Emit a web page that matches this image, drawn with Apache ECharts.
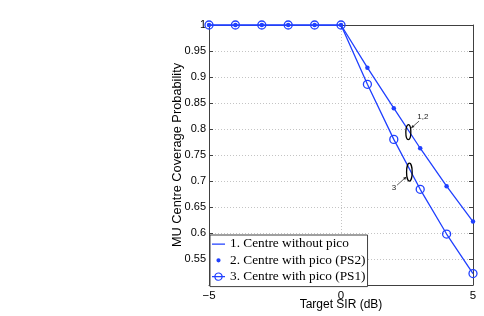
<!DOCTYPE html>
<html><head><meta charset="utf-8">
<script src="https://cdn.jsdelivr.net/npm/echarts@6/dist/echarts.min.js"></script>
<style>html,body{margin:0;padding:0;background:#fff}#c{width:484px;height:316px}</style>
</head><body><div id="c"></div>
<script>
// ---- data ----
const targetSIR = [-5, -4, -3, -2, -1, 0, 1, 2, 3, 4, 5];
const centreWithoutPico = [1, 1, 1, 1, 1, 1, 0.918, 0.840, 0.763, 0.690, 0.622];
const centreWithPicoPS2 = [1, 1, 1, 1, 1, 1, 0.918, 0.840, 0.763, 0.690, 0.622];
const centreWithPicoPS1 = [1, 1, 1, 1, 1, 1, 0.886, 0.780, 0.684, 0.598, 0.522];
const seriesNames = ['1. Centre without pico', '2. Centre with pico (PS2)', '3. Centre with pico (PS1)'];
const xTickValues = [-5, 0, 5];
const yTickValues = [0.55, 0.6, 0.65, 0.7, 0.75, 0.8, 0.85, 0.9, 0.95, 1];

const BLUE = '#2040ff';
const AXIS = '#404040';
const zip = (xs, ys) => xs.map((x, i) => [x, ys[i]]);

const chart = echarts.init(document.getElementById('c'), null, {renderer: 'canvas'});

const baseX = {
  type: 'value', min: -5, max: 5, interval: 5,
  axisLine: {show: true, onZero: false, lineStyle: {color: AXIS, width: 1}},
  axisTick: {show: true, inside: true, length: 4, lineStyle: {color: AXIS}},
};
const baseY = {
  type: 'value', min: 0.5, max: 1, interval: 0.05,
  axisLine: {show: true, onZero: false, lineStyle: {color: AXIS, width: 1}},
  axisTick: {show: true, inside: true, length: 4, lineStyle: {color: AXIS}},
};

const option = {
  animation: false,
  backgroundColor: '#fff',
  grid: {left: 209, right: 11, top: 25, bottom: 27.5, containLabel: false},
  xAxis: [
    Object.assign({}, baseX, {
      position: 'bottom',
      axisLabel: {fontFamily: 'Liberation Sans', fontSize: 11.5, color: '#000', margin: 5,
        formatter: v => xTickValues.includes(v) ? (v < 0 ? '\u2212' + Math.abs(v) : String(v)) : ''},
      splitLine: {show: true, lineStyle: {color: '#c4c4c4', type: [1, 2], width: 1}},
      name: 'Target SIR (dB)', nameLocation: 'middle', nameGap: 14, nameMoveOverlap: false,
      nameTextStyle: {fontFamily: 'Liberation Sans', fontSize: 12, color: '#000'}
    }),
    Object.assign({}, baseX, {position: 'top', axisLabel: {show: false}, splitLine: {show: false}})
  ],
  yAxis: [
    Object.assign({}, baseY, {
      position: 'left',
      axisLabel: {fontFamily: 'Liberation Sans', fontSize: 11, color: '#000', margin: 3, showMinLabel: false,
        formatter: v => yTickValues.some(t => Math.abs(t - v) < 1e-9) ? String(+v.toFixed(2)) : ''},
      splitLine: {show: true, lineStyle: {color: '#c4c4c4', type: [1, 2], width: 1}},
      name: 'MU Centre Coverage Probability', nameLocation: 'middle', nameGap: 25, nameMoveOverlap: false,
      nameTextStyle: {fontFamily: 'Liberation Sans', fontSize: 12.8, color: '#000'}
    }),
    Object.assign({}, baseY, {position: 'right', axisLabel: {show: false}, splitLine: {show: false}})
  ],
  legend: {
    orient: 'vertical', left: 210, top: 235,
    itemWidth: 13, itemHeight: 14, itemGap: 2.3,
    padding: [2, 2, 3, 2],
    backgroundColor: '#fff', borderColor: AXIS, borderWidth: 1, borderRadius: 0,
    textStyle: {fontFamily: 'Liberation Serif', fontSize: 13.3, color: '#000', lineHeight: 14},
    selectedMode: false,
    data: [
      {name: seriesNames[0], icon: 'path://M0,0L0,0ZM13,14L13,14ZM0,6.5L13,6.5L13,7.7L0,7.7Z',
        itemStyle: {color: BLUE, borderWidth: 0}},
      {name: seriesNames[1], icon: 'path://M0,0L0,0ZM13,14L13,14ZM6.5,4.9A2.1,2.1,0,1,1,6.49,4.9Z',
        itemStyle: {color: BLUE, borderWidth: 0}},
      {name: seriesNames[2], icon: 'path://M0,0L0,0ZM13,14L13,14ZM0,6.4L2.3,6.4A4.25,4.25,0,0,1,10.7,6.4L13,6.4L13,7.6L10.7,7.6A4.25,4.25,0,0,1,2.3,7.6L0,7.6ZM3.5,6.4L9.5,6.4A3.05,3.05,0,0,0,3.5,6.4ZM3.5,7.6A3.05,3.05,0,0,0,9.5,7.6Z',
        itemStyle: {color: BLUE, borderWidth: 0}}
    ]
  },
  series: [
    {name: seriesNames[0], type: 'line', data: zip(targetSIR, centreWithoutPico),
      symbol: 'none', lineStyle: {color: BLUE, width: 1.3}, itemStyle: {color: BLUE}, z: 3},
    {name: seriesNames[1], type: 'line', data: zip(targetSIR, centreWithPicoPS2),
      symbol: 'circle', symbolSize: 4.5, showSymbol: true,
      lineStyle: {width: 0, opacity: 0}, itemStyle: {color: BLUE}, z: 4},
    {name: seriesNames[2], type: 'line', data: zip(targetSIR, centreWithPicoPS1),
      symbol: 'circle', symbolSize: 8, showSymbol: true,
      lineStyle: {color: BLUE, width: 1.3},
      itemStyle: {color: 'rgba(255,255,255,0)', borderColor: BLUE, borderWidth: 1.3}, z: 3}
  ]
};
chart.setOption(option);

// ---- annotations (ellipses with labels/arrows), anchored in data coordinates ----
const annotations = [
  {at: [2.55, 0.794], rx: 2.5, ry: 7.5, label: '1,2', lab: [14.5, -15.5], from: [10.7, -11], to: [2.8, -4]},
  {at: [2.59, 0.717], rx: 2.8, ry: 9, label: '3', lab: [-15.3, 16], from: [-12.3, 13], to: [-2.9, 4.5]}
];
const gr = [];
annotations.forEach(a => {
  const p = chart.convertToPixel({gridIndex: 0}, a.at);
  gr.push({type: 'ellipse', shape: {cx: p[0], cy: p[1], rx: a.rx, ry: a.ry},
    style: {fill: 'none', stroke: '#000', lineWidth: 1.3}, z: 10});
  const x1 = p[0] + a.from[0], y1 = p[1] + a.from[1], x2 = p[0] + a.to[0], y2 = p[1] + a.to[1];
  gr.push({type: 'line', shape: {x1, y1, x2, y2}, style: {stroke: '#333', lineWidth: 0.8}, z: 10});
  const ang = Math.atan2(y2 - y1, x2 - x1), L = 3.2, W = 1.5;
  const bx = x2 - L * Math.cos(ang), by = y2 - L * Math.sin(ang);
  gr.push({type: 'polygon', shape: {points: [[x2, y2],
    [bx - W * Math.sin(ang), by + W * Math.cos(ang)], [bx + W * Math.sin(ang), by - W * Math.cos(ang)]]},
    style: {fill: '#222'}, z: 10});
  gr.push({type: 'text', x: p[0] + a.lab[0], y: p[1] + a.lab[1],
    style: {text: a.label, font: '8px "Liberation Sans"', fill: '#222', align: 'center', verticalAlign: 'middle'}, z: 10});
});
chart.setOption({graphic: gr});
</script>
</body></html>
